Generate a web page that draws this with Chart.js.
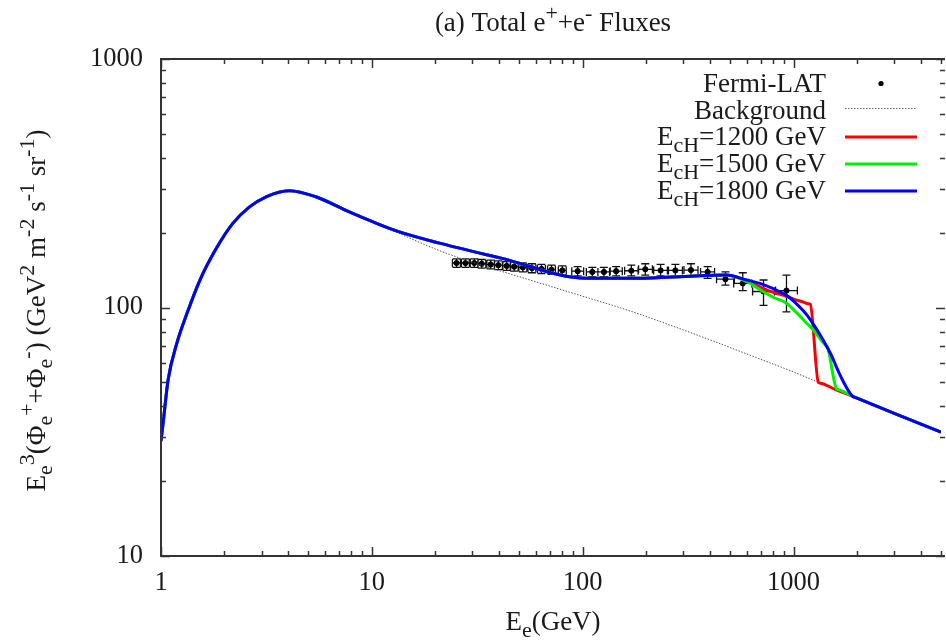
<!DOCTYPE html>
<html>
<head>
<meta charset="utf-8">
<title>(a) Total e+e- Fluxes</title>
<script src="https://cdn.jsdelivr.net/npm/chart.js@4.4.0/dist/chart.umd.min.js"></script>
<style>
  html, body { margin: 0; padding: 0; background: #fff; }
  #wrap { width: 946px; height: 641px; }
</style>
</head>
<body>
<div id="wrap"><canvas id="fluxChart" width="946" height="641"></canvas></div>
<script>
'use strict';

// ── DATA ──────────────────────────────────────────────────────

// shared model curve, identical for all three cut-offs below ~500 GeV
const sharedEnergy = [1, 1.03, 1.08, 1.19, 1.33, 1.53, 1.83, 2.19, 2.63, 3.15, 4.06, 5.42, 7.77, 10, 13.4, 20.7, 41, 105, 181, 339, 480];
const sharedFlux   = [29, 36, 51, 72, 95, 129, 173, 218, 254, 279, 295, 279, 243, 222, 202, 182, 158, 131, 131, 134, 135];

// high-energy tails for E_cH = 1200 / 1500 / 1800 GeV
const tail1200Energy = [600, 692, 800, 925, 1000, 1100, 1180, 1200, 1310, 1330, 1600, 1900, 2000, 3000, 5000];
const tail1200Flux   = [128, 121, 115, 111, 108, 105.5, 103.5, 103, 50, 49.7, 46.5, 44, 43.2, 37.5, 31.5];

const tail1500Energy = [600, 692, 800, 925, 1050, 1160, 1245, 1350, 1430, 1450, 1600, 1620, 1900, 2000, 3000, 5000];
const tail1500Flux   = [127, 118, 110, 104, 94, 86, 81, 74, 70, 69, 47, 46.8, 44, 43.2, 37.5, 31.5];

const tail1800Energy = [600, 692, 800, 925, 1050, 1160, 1260, 1380, 1500, 1620, 1750, 1900, 2000, 3000, 5000];
const tail1800Flux   = [129, 125, 119, 112, 102, 93, 84, 74, 65, 56, 49, 44, 43.2, 37.5, 31.5];

// astrophysical background
const bgEnergy = [1, 1.03, 1.08, 1.19, 1.33, 1.53, 1.83, 2.19, 2.63, 3.15, 4.06, 5.42, 7.77, 10, 13.4, 20.7, 30, 50, 100, 163, 403, 600, 1000, 1310, 1900, 2000, 3000, 5000];
const bgFlux   = [29, 36, 51, 72, 95, 129, 173, 218, 254, 279, 295, 279, 243, 222, 199, 170, 152, 133, 111, 97.6, 74, 65, 55, 50, 44, 43.2, 37.5, 31.5];

// Fermi-LAT points with x / y error ranges
const fermiEnergy = [25.2, 27.8, 30.6, 33.2, 36.6, 39.8, 43.6, 47.3, 52.0, 57.4, 63.7, 71.1, 80.0, 94.6, 111, 126, 144, 170, 198, 234, 275, 326, 391, 475, 574, 720, 925];
const fermiELo    = [24.1, 26.6, 29.3, 31.8, 35.1, 38.1, 41.8, 45.3, 49.8, 55.0, 61.0, 68.1, 76.6, 88.7, 104, 118, 135, 158, 184, 217, 255, 302, 362, 431, 520, 639, 821];
const fermiEHi    = [26.3, 29.0, 31.9, 34.7, 38.2, 41.6, 45.5, 49.4, 54.3, 59.9, 66.5, 74.2, 83.5, 101, 118, 134, 154, 183, 214, 252, 297, 352, 422, 524, 633, 811, 1042];
const fermiFlux   = [151, 151, 151, 150, 149, 148, 147, 146, 145, 144, 143, 142, 141, 140, 139, 139, 140, 140.6, 142.5, 141, 141, 141.5, 139, 130, 125, 116, 117];
const fermiFLo    = [145, 145, 145, 144, 143, 142, 141, 140, 139, 138, 137, 136, 135, 134, 133, 133, 134, 134, 135, 134, 133, 133, 131, 123, 117, 102, 96];
const fermiFHi    = [157, 157, 157, 156, 155, 154, 153, 152, 151, 150, 149, 148, 147, 146, 145, 145, 146, 148, 150, 149, 149, 150, 146, 139, 138, 129, 135];

const xTickLabels = [1, 10, 100, 1000];
const yTickLabels = [10, 100, 1000];

// ── STYLE ─────────────────────────────────────────────────────

const SERIF   = "'Liberation Serif', 'Times New Roman', serif";
const FS      = 27;    // titles and key
const TICK_FS = 26.5;  // tick labels
const INK     = '#1a1a1a';
const FRAME   = '#333333';
const RED     = '#ff0000';
const GREEN   = '#00ee00';
const BLUE    = '#0000ff';

// ── HELPERS ───────────────────────────────────────────────────

function xy(xs, ys) {
  return xs.map((x, i) => ({ x, y: ys[i] }));
}

function fontFor(kind, size) {
  return (kind ? Math.round(size * 0.8) : size) + 'px ' + SERIF;
}

function richWidth(ctx, parts, size) {
  let w = 0;
  parts.forEach(([t, k]) => { ctx.font = fontFor(k, size); w += ctx.measureText(t).width; });
  return w;
}

// parts: [[text, ''|'sup'|'sub'], ...] drawn on one baseline
function drawRich(ctx, parts, x, y, size, align) {
  const w = richWidth(ctx, parts, size);
  let cx = align === 'right' ? x - w : align === 'center' ? x - w / 2 : x;
  ctx.textAlign = 'left';
  ctx.textBaseline = 'alphabetic';
  parts.forEach(([t, k]) => {
    ctx.font = fontFor(k, size);
    const dy = k === 'sup' ? -0.42 * size : k === 'sub' ? 0.26 * size : 0;
    ctx.fillText(t, cx, y + dy);
    cx += ctx.measureText(t).width;
  });
}

// ── PLUGINS ───────────────────────────────────────────────────

// gnuplot-like frame with inward ticks; the right border sits just off the canvas
const frameTicks = {
  id: 'frameTicks',
  afterDatasetsDraw(chart) {
    const { ctx, chartArea: a, scales: { x, y } } = chart;
    const rightEdge = a.right + 4;
    ctx.save();
    ctx.strokeStyle = FRAME;
    ctx.lineWidth = 1.5;
    ctx.beginPath();
    for (let d = 1; d <= 1000; d *= 10) {
      for (let m = 1; m <= 9; m++) {
        const v = d * m;
        if (v > 5000) break;
        const px = Math.round(x.getPixelForValue(v)) + 0.5;
        const len = m === 1 ? 9 : 5;
        ctx.moveTo(px, a.bottom); ctx.lineTo(px, a.bottom - len);
        ctx.moveTo(px, a.top);    ctx.lineTo(px, a.top + len);
      }
    }
    for (let d = 10; d <= 1000; d *= 10) {
      for (let m = 1; m <= 9; m++) {
        const v = d * m;
        if (v > 1000) break;
        const py = Math.round(y.getPixelForValue(v)) + 0.5;
        const len = m === 1 ? 9 : 5;
        ctx.moveTo(a.left, py);    ctx.lineTo(a.left + len, py);
        ctx.moveTo(rightEdge, py); ctx.lineTo(rightEdge - len, py);
      }
    }
    ctx.stroke();
    ctx.lineWidth = 2;
    ctx.beginPath();
    ctx.moveTo(rightEdge, a.top);
    ctx.lineTo(a.left, a.top);
    ctx.lineTo(a.left, a.bottom);
    ctx.lineTo(rightEdge, a.bottom);
    ctx.stroke();
    ctx.restore();
  },
};

// Fermi-LAT x/y error bars with small end caps
const errorBars = {
  id: 'errorBars',
  beforeDatasetsDraw(chart) {
    const { ctx, scales: { x, y } } = chart;
    const cap = 4;
    ctx.save();
    ctx.strokeStyle = '#111';
    ctx.lineWidth = 1.3;
    ctx.beginPath();
    fermiEnergy.forEach((e, i) => {
      const px  = x.getPixelForValue(e);
      const py  = y.getPixelForValue(fermiFlux[i]);
      const x0  = x.getPixelForValue(fermiELo[i]);
      const x1  = x.getPixelForValue(fermiEHi[i]);
      const y0  = y.getPixelForValue(fermiFLo[i]);
      const y1  = y.getPixelForValue(fermiFHi[i]);
      ctx.moveTo(px, y0); ctx.lineTo(px, y1);
      ctx.moveTo(px - cap, y0); ctx.lineTo(px + cap, y0);
      ctx.moveTo(px - cap, y1); ctx.lineTo(px + cap, y1);
      ctx.moveTo(x0, py); ctx.lineTo(x1, py);
      ctx.moveTo(x0, py - cap); ctx.lineTo(x0, py + cap);
      ctx.moveTo(x1, py - cap); ctx.lineTo(x1, py + cap);
    });
    ctx.stroke();
    ctx.restore();
  },
};

// title, axis titles and key, with super/subscripts
const annotations = {
  id: 'annotations',
  afterDraw(chart) {
    const { ctx, chartArea: a } = chart;
    const cx = 553;
    ctx.save();
    ctx.fillStyle = INK;

    drawRich(ctx, [['(a) Total e'], ['+', 'sup'], ['+e'], ['-', 'sup'], [' Fluxes']], cx, 31, FS, 'center');
    drawRich(ctx, [['E'], ['e', 'sub'], ['(GeV)']], cx, 630, FS, 'center');

    ctx.save();
    ctx.translate(45, (a.top + a.bottom) / 2 + 3);
    ctx.rotate(-Math.PI / 2);
    drawRich(ctx, [
      ['E'], ['e', 'sub'], ['3', 'sup'], ['(\u03A6'], ['e', 'sub'], ['+', 'sup'], ['+\u03A6'], ['e', 'sub'], ['-', 'sup'],
      [') (GeV'], ['2', 'sup'], [' m'], ['-2', 'sup'], [' s'], ['-1', 'sup'], [' sr'], ['-1', 'sup'], [')'],
    ], 0, 0, FS, 'center');
    ctx.restore();

    // key
    const tx = 826, lx0 = 845, lx1 = 917;
    const rows = [
      { parts: [['Fermi-LAT']], base: 92 },
      { parts: [['Background']], base: 118.5 },
      { parts: [['E'], ['cH', 'sub'], ['=1200 GeV']], base: 145, color: RED },
      { parts: [['E'], ['cH', 'sub'], ['=1500 GeV']], base: 172, color: GREEN },
      { parts: [['E'], ['cH', 'sub'], ['=1800 GeV']], base: 199, color: BLUE },
    ];
    rows.forEach(r => drawRich(ctx, r.parts, tx, r.base, FS, 'right'));

    ctx.fillStyle = '#000';
    ctx.beginPath();
    ctx.arc(881, rows[0].base - 8.5, 2.6, 0, Math.PI * 2);
    ctx.fill();

    ctx.strokeStyle = '#666';
    ctx.lineWidth = 1;
    ctx.setLineDash([1.5, 1.5]);
    ctx.beginPath();
    ctx.moveTo(lx0, rows[1].base - 10); ctx.lineTo(lx1, rows[1].base - 10);
    ctx.stroke();
    ctx.setLineDash([]);

    ctx.lineWidth = 3;
    rows.slice(2).forEach(r => {
      ctx.strokeStyle = r.color;
      ctx.beginPath();
      ctx.moveTo(lx0, r.base - 8); ctx.lineTo(lx1, r.base - 8);
      ctx.stroke();
    });
    ctx.restore();
  },
};

// ── CHART ─────────────────────────────────────────────────────

const curve = (label, xs, ys, color, order) => ({
  label,
  data: xy(xs, ys),
  showLine: true,
  borderColor: color,
  borderWidth: 3,
  pointRadius: 0,
  cubicInterpolationMode: 'monotone',
  order,
});

new Chart(document.getElementById('fluxChart'), {
  type: 'scatter',
  data: {
    datasets: [
      curve('E_cH=1800 GeV', sharedEnergy.concat(tail1800Energy), sharedFlux.concat(tail1800Flux), BLUE, 0),
      curve('E_cH=1500 GeV', sharedEnergy.concat(tail1500Energy), sharedFlux.concat(tail1500Flux), GREEN, 1),
      curve('E_cH=1200 GeV', sharedEnergy.concat(tail1200Energy), sharedFlux.concat(tail1200Flux), RED, 2),
      {
        label: 'Background',
        data: xy(bgEnergy, bgFlux),
        showLine: true,
        borderColor: '#555',
        borderWidth: 1,
        borderDash: [1.5, 1.5],
        pointRadius: 0,
        cubicInterpolationMode: 'monotone',
        order: 3,
      },
      {
        label: 'Fermi-LAT',
        data: xy(fermiEnergy, fermiFlux),
        backgroundColor: '#000',
        borderColor: '#000',
        pointRadius: 2.6,
        order: 4,
      },
    ],
  },
  options: {
    responsive: false,
    animation: false,
    devicePixelRatio: 1,
    layout: { padding: { top: 59, right: 0, bottom: 0, left: 0 } },
    plugins: {
      legend: { display: false },
      tooltip: { enabled: false },
    },
    scales: {
      x: {
        type: 'logarithmic',
        min: 1,
        max: 5000,
        grid: { display: false, drawTicks: false },
        border: { display: false },
        afterBuildTicks: s => { s.ticks = xTickLabels.map(v => ({ value: v })); },
        afterFit: s => { s.height = 85; },
        ticks: {
          padding: 11,
          maxRotation: 0,
          color: INK,
          font: { family: SERIF, size: TICK_FS },
          callback: v => String(v),
        },
      },
      y: {
        type: 'logarithmic',
        min: 10,
        max: 1000,
        grid: { display: false, drawTicks: false },
        border: { display: false },
        afterBuildTicks: s => { s.ticks = yTickLabels.map(v => ({ value: v })); },
        afterFit: s => { s.width = 161; },
        ticks: {
          padding: 18,
          color: INK,
          font: { family: SERIF, size: TICK_FS },
          callback: v => String(v),
        },
      },
    },
  },
  plugins: [frameTicks, errorBars, annotations],
});
</script>
</body>
</html>
